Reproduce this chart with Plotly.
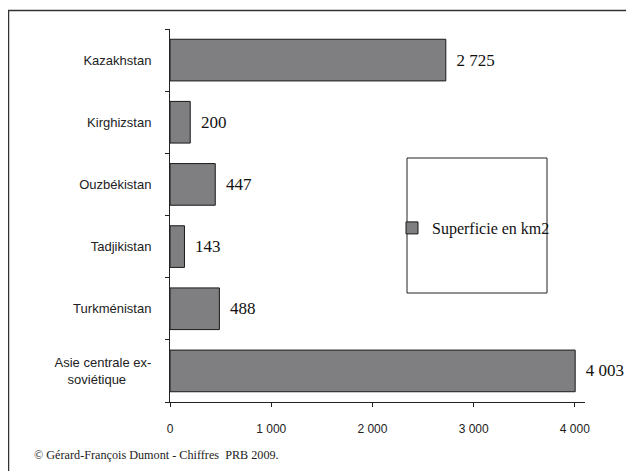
import plotly.graph_objects as go

categories = ["Kazakhstan", "Kirghizstan", "Ouzbékistan", "Tadjikistan", "Turkménistan",
              "Asie centrale ex-soviétique"]
tick_labels = ["Kazakhstan", "Kirghizstan", "Ouzbékistan", "Tadjikistan", "Turkménistan",
               "Asie centrale ex-<br>soviétique" + "\u00a0" * 7]
superficie = [2725, 200, 447, 143, 488, 4003]
x_tickvals = [0, 1000, 2000, 3000, 4000]
x_ticktext = ["0", "1 000", "2 000", "3 000", "4 000"]
series_name = "Superficie en km2"
footer = "© Gérard-François Dumont - Chiffres\u00a0 PRB 2009."

labels = ["\u00a0\u2009" + f"{v:,}".replace(",", "\u00a0") for v in superficie]

# page offset (browser body margin) of 8px
OFF = 8
W, H = 634 - OFF, 471 - OFF
L, T = 170 - OFF, 29 - OFF
R = W - (585 - OFF)
B = H - (402 - OFF)
pw, ph = W - L - R, H - T - B

def px_x(p):  # p in reference page pixels
    return (p - OFF - L) / pw

def px_y(p):
    return (H - B - (p - OFF)) / ph

fig = go.Figure()
fig.add_trace(go.Bar(
    y=categories, x=superficie, orientation="h", name=series_name,
    marker=dict(color="#7f7f82", line=dict(color="#1a1a1a", width=1)),
    width=0.67,
    text=labels, textposition="outside", cliponaxis=False,
    textfont=dict(family="Liberation Serif", size=17, color="#111"),
    showlegend=True,
))

fig.update_layout(
    width=W, height=H,
    margin=dict(l=L, r=R, t=T, b=B, pad=0),
    paper_bgcolor="white", plot_bgcolor="white",
    xaxis=dict(range=[0, 4100], tickvals=x_tickvals, ticktext=x_ticktext,
               showgrid=False, zeroline=False, showline=True, linecolor="#222",
               linewidth=1, ticks="outside", ticklen=4, tickcolor="#222",
               ticklabelstandoff=12,
               tickfont=dict(family="Liberation Sans", size=12, color="#222")),
    yaxis=dict(type="category", categoryorder="array", categoryarray=categories,
               tickmode="array", tickvals=categories, ticktext=tick_labels,
               range=[5.5, -0.5], tickson="boundaries", showgrid=False,
               zeroline=False, showline=True, linecolor="#222", linewidth=1,
               ticks="outside", ticklen=4, tickcolor="#222", ticklabelstandoff=15,
               tickfont=dict(family="Liberation Sans", size=13, color="#222")),
    showlegend=True,
    legend=dict(x=px_x(392), y=px_y(228), xanchor="left", yanchor="middle",
                bgcolor="rgba(0,0,0,0)", borderwidth=0, itemwidth=30,
                font=dict(family="Liberation Serif", size=16, color="#111")),
    shapes=[
        dict(type="rect", xref="paper", yref="paper",
             x0=px_x(407), x1=px_x(547), y0=px_y(293), y1=px_y(158),
             line=dict(color="#222", width=1), fillcolor="rgba(0,0,0,0)"),
        dict(type="rect", xref="paper", yref="paper",
             x0=px_x(8.5), x1=px_x(660), y0=px_y(500), y1=px_y(10.5),
             line=dict(color="#333", width=1.5), fillcolor="rgba(0,0,0,0)"),
    ],
    annotations=[
        dict(text=footer, xref="paper", yref="paper", x=px_x(32), y=px_y(455),
             xanchor="left", yanchor="middle", showarrow=False,
             font=dict(family="Liberation Serif", size=12.2, color="#222")),
    ],
)

fig.write_html("out.html")
